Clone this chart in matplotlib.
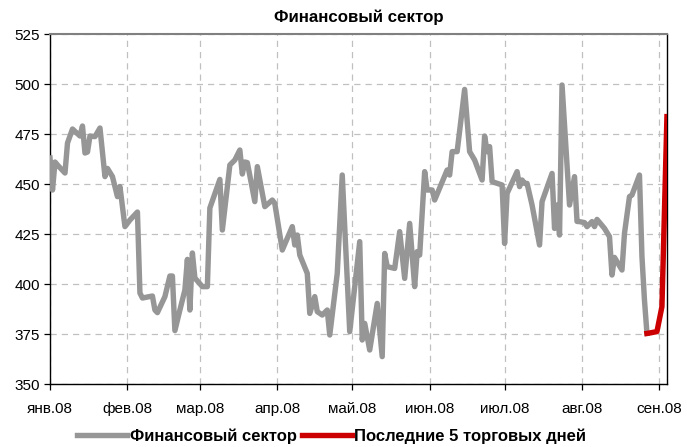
import numpy as np
import pandas as pd
import matplotlib
matplotlib.use('Agg')
import matplotlib.pyplot as plt

# days since 2008-01-01 and index values
days = [0, 1, 2, 3, 6, 7, 9, 12, 13, 14, 15, 16, 18, 20, 22, 23, 25, 26, 27, 28,
        30, 32, 35, 36, 37, 41, 42, 43, 46, 48, 49, 50, 52, 54, 55, 56, 57, 58, 61, 63,
        64, 68, 69, 72, 74, 76, 77, 78, 79, 82, 83, 86, 89, 90, 93, 97, 98, 99, 100, 103,
        104, 106, 107, 109, 111, 112, 115, 117, 120, 124, 125, 126, 128, 131, 133, 134, 135, 138, 140, 142,
        144, 146, 147, 148, 150, 151, 153, 154, 159, 160, 161, 163, 166, 168, 170, 173, 174, 175, 176, 177,
        181, 182, 183, 187, 188, 189, 190, 191, 193, 196, 197, 201, 202, 203, 204, 205, 208, 210, 211, 212,
        214, 215, 217, 218, 219, 222, 224, 225, 226, 229, 230, 232, 233, 236, 237, 238, 239]
values = [463, 447, 461, 459.5, 455.5, 470.5, 477.5, 474, 479, 465.5, 466, 474, 473.7, 478, 453.7, 457.8, 453.7, 448.7, 443.7, 448.7,
          428.7, 432, 436, 395.5, 393, 394, 387, 385.7, 393.7, 404, 404, 376.7, 387, 397, 412.3, 387, 415.5, 403, 398.7, 398.7,
          438, 452.3, 427, 459.5, 462, 467, 455, 461, 460.7, 441.2, 458.7, 438.7, 442, 440.3, 417, 428.7, 419.5, 424.5, 414.5, 405.3,
          385.3, 393.7, 386.2, 384.5, 387, 374.5, 405.3, 454.5, 376.2, 421.2, 372, 380.3, 367, 390.3, 363.7, 415.3, 408.7, 407.8, 426.2, 402.8,
          430.3, 398.7, 416.2, 414.5, 456.2, 447, 447, 442, 457, 454.5, 466.2, 466.2, 497.3, 466.2, 462, 452, 474, 466.2, 468.7, 451.2,
          449.5, 420.3, 445.3, 456.2, 448.7, 452, 450.3, 450.3, 439.5, 419.5, 441.2, 455.3, 427.8, 439.5, 424.5, 499.5, 439.5, 453.7, 431.3, 431.2,
          430.7, 428.7, 431.2, 428.7, 432.3, 427.8, 423.7, 404.5, 413.3, 407, 425.3, 443.7, 444.5, 454.5, 413.7, 392, 375.3]

last_days = [239, 240, 243, 245, 247]
last_values = [375.3, 375.5, 376.2, 388.7, 483.7]

month_labels = ['янв.08', 'фев.08', 'мар.08', 'апр.08', 'май.08',
                'июн.08', 'июл.08', 'авг.08', 'сен.08']

base = pd.Timestamp('2008-01-01')
dates = base + pd.to_timedelta(days, unit='D')
last_dates = base + pd.to_timedelta(last_days, unit='D')
month_ticks = pd.date_range('2008-01-01', periods=len(month_labels), freq='MS')

plt.rcParams['font.family'] = ['Liberation Sans', 'DejaVu Sans']

fig = plt.figure(figsize=(6.87, 4.47), dpi=100)
ax = fig.add_axes([0.0728, 0.1409, 0.898, 0.783])

ax.plot(dates, values, color='#969696', lw=3.9, solid_joinstyle='round',
        label='Финансовый сектор', zorder=3)
ax.plot(last_dates, last_values, color='#CC0000', lw=3.9, solid_joinstyle='round',
        label='Последние 5 торговых дней', zorder=4)

ax.set_ylim(350, 525)
ax.set_yticks(np.arange(350, 526, 25))
ax.set_xlim(base, last_dates[-1])
ax.set_xticks(month_ticks)
ax.set_xticklabels(month_labels)

ax.grid(True, color='#c0c0c0', linestyle=(0, (5, 4)), lw=0.9)
ax.tick_params(axis='both', labelsize=11, direction='out', length=4, width=0.9)
ax.tick_params(axis='x', pad=9)
ax.tick_params(axis='y', pad=3)
for s in ['left', 'bottom', 'right']:
    ax.spines[s].set_color('black')
    ax.spines[s].set_linewidth(1.0)
ax.spines['top'].set_color('#808080')
ax.spines['top'].set_linewidth(1.5)

ax.set_title('Финансовый сектор', fontsize=12.2, fontweight='bold', pad=8.5)

fig.legend(loc='center', bbox_to_anchor=(0.483, 0.024), ncol=2,
           frameon=False, handlelength=3.0, columnspacing=0.3, handletextpad=0.15,
           prop={'weight': 'bold', 'size': 12})

fig.savefig('out.png', dpi=100)
